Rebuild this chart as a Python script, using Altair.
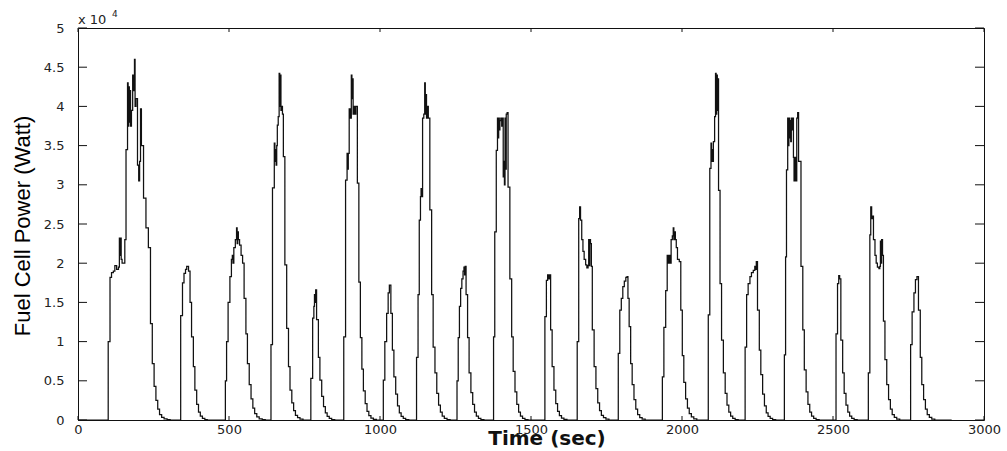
import altair as alt
import pandas as pd

# ---- axis ticks ----
X_TICKS = [0, 500, 1000, 1500, 2000, 2500, 3000]
Y_TICKS = [0, 0.5, 1, 1.5, 2, 2.5, 3, 3.5, 4, 4.5, 5]

# ---- fuel cell power, stepped signal: (time s, power in 1e4 W) ----
PULSE_01 = [(100, 1.0), (106, 1.82), (111, 1.88), (117, 1.9), (122, 1.97), (128, 1.92), (134, 1.95),
            (137, 2.32), (139, 2.1), (141, 2.32), (143, 2.05), (146, 2.0), (151, 2.0), (155, 2.3),
            (159, 3.45), (164, 4.3), (166, 3.75), (168, 4.25), (170, 3.8), (172, 4.2), (174, 3.75),
            (177, 3.95), (181, 4.4), (185, 4.2), (187, 4.6), (189, 4.0), (192, 4.1), (197, 3.25),
            (201, 3.05), (204, 3.3), (207, 3.97), (210, 3.5), (217, 2.83), (225, 2.45), (233, 2.2),
            (240, 1.23), (246, 0.72), (252, 0.43), (258, 0.25), (264, 0.14), (270, 0.07), (277, 0.035),
            (285, 0.015), (295, 0.005), (305, 0)]
PULSE_02 = [(340, 1.33), (346, 1.75), (351, 1.87), (356, 1.92), (360, 1.96), (366, 1.9), (371, 1.5),
            (376, 1.06), (382, 0.68), (387, 0.38), (393, 0.2), (399, 0.1), (405, 0.05), (412, 0.02),
            (420, 0.005), (428, 0)]
PULSE_03 = [(488, 0.5), (492, 1.0), (497, 1.5), (503, 1.83), (508, 2.05), (511, 2.1), (513, 2.0),
            (516, 2.2), (521, 2.3), (525, 2.45), (527, 2.25), (529, 2.4), (531, 2.3), (535, 2.23),
            (540, 2.1), (545, 2.0), (550, 1.55), (556, 1.1), (561, 0.72), (567, 0.45), (573, 0.27),
            (579, 0.15), (585, 0.08), (592, 0.04), (600, 0.015), (610, 0.005), (620, 0)]
PULSE_04 = [(639, 0.96), (644, 2.96), (650, 3.53), (652, 3.3), (654, 3.45), (656, 3.25), (658, 3.5),
            (660, 3.76), (663, 3.87), (666, 4.42), (668, 4.0), (670, 4.4), (672, 3.95), (675, 4.0),
            (677, 3.9), (680, 3.36), (685, 1.98), (691, 1.17), (697, 0.68), (702, 0.38), (708, 0.22),
            (714, 0.12), (720, 0.06), (727, 0.03), (735, 0.01), (745, 0)]
PULSE_05 = [(771, 0.53), (777, 1.3), (781, 1.45), (783, 1.6), (785, 1.5), (787, 1.66), (790, 1.28),
            (796, 0.8), (801, 0.51), (807, 0.3), (813, 0.17), (819, 0.09), (825, 0.045), (832, 0.02),
            (840, 0.005), (850, 0)]
PULSE_06 = [(880, 1.06), (886, 3.06), (891, 3.4), (893, 3.2), (895, 3.4), (898, 3.97), (902, 3.85),
            (905, 4.4), (907, 4.1), (909, 4.35), (911, 3.9), (914, 4.0), (917, 3.9), (920, 4.0),
            (925, 3.02), (930, 1.76), (935, 1.05), (940, 0.65), (945, 0.37), (951, 0.21), (957, 0.11),
            (963, 0.055), (970, 0.025), (978, 0.008), (988, 0)]
PULSE_07 = [(1011, 0.51), (1016, 1.0), (1022, 1.36), (1027, 1.62), (1031, 1.72), (1036, 1.36),
            (1041, 0.89), (1046, 0.55), (1052, 0.33), (1058, 0.18), (1064, 0.09), (1070, 0.045),
            (1077, 0.02), (1085, 0.005), (1095, 0)]
PULSE_08 = [(1121, 0.8), (1126, 1.6), (1130, 2.55), (1134, 2.85), (1136, 2.95), (1138, 2.85),
            (1141, 3.85), (1145, 3.9), (1148, 4.3), (1150, 3.9), (1152, 4.15), (1154, 3.85),
            (1157, 4.0), (1160, 3.85), (1165, 2.68), (1171, 1.6), (1176, 0.93), (1182, 0.6),
            (1188, 0.34), (1194, 0.19), (1200, 0.1), (1206, 0.05), (1213, 0.02), (1222, 0.006), (1232, 0)]
PULSE_09 = [(1255, 0.5), (1259, 1.05), (1263, 1.45), (1267, 1.68), (1271, 1.8), (1275, 1.9),
            (1278, 1.95), (1280, 1.85), (1282, 1.96), (1285, 1.6), (1290, 1.05), (1295, 0.6),
            (1301, 0.35), (1307, 0.2), (1313, 0.1), (1319, 0.05), (1326, 0.02), (1334, 0.006), (1344, 0)]
PULSE_10 = [(1376, 1.06), (1380, 2.4), (1385, 3.44), (1389, 3.85), (1391, 3.6), (1393, 3.85),
            (1395, 3.7), (1397, 3.82), (1400, 3.85), (1403, 3.75), (1405, 3.85), (1408, 3.1),
            (1410, 3.3), (1412, 3.0), (1414, 3.85), (1416, 3.2), (1418, 3.9), (1421, 3.92),
            (1424, 2.97), (1430, 1.8), (1436, 1.06), (1441, 0.62), (1447, 0.36), (1453, 0.2),
            (1459, 0.1), (1465, 0.05), (1472, 0.02), (1480, 0.006), (1490, 0)]
PULSE_11 = [(1546, 1.32), (1551, 1.78), (1555, 1.85), (1558, 1.8), (1561, 1.85), (1565, 1.15),
            (1570, 0.68), (1576, 0.38), (1582, 0.21), (1588, 0.11), (1594, 0.055), (1601, 0.025),
            (1609, 0.008), (1619, 0)]
PULSE_12 = [(1653, 1.0), (1658, 2.57), (1661, 2.72), (1664, 2.55), (1668, 2.3), (1672, 2.15),
            (1676, 2.05), (1681, 1.98), (1685, 1.94), (1689, 1.97), (1691, 2.3), (1693, 1.97),
            (1695, 2.3), (1697, 2.25), (1700, 1.96), (1703, 1.15), (1709, 0.68), (1715, 0.4),
            (1721, 0.22), (1727, 0.12), (1733, 0.06), (1740, 0.03), (1748, 0.01), (1758, 0)]
PULSE_13 = [(1789, 0.85), (1794, 1.4), (1799, 1.55), (1804, 1.7), (1809, 1.77), (1814, 1.82),
            (1818, 1.83), (1821, 1.55), (1825, 1.19), (1830, 0.72), (1835, 0.45), (1841, 0.26),
            (1847, 0.14), (1853, 0.07), (1860, 0.03), (1868, 0.01), (1878, 0)]
PULSE_14 = [(1935, 0.55), (1940, 1.18), (1946, 1.65), (1951, 2.1), (1955, 2.0), (1957, 2.1),
            (1960, 2.0), (1964, 2.3), (1968, 2.35), (1971, 2.45), (1973, 2.3), (1975, 2.4),
            (1978, 2.3), (1981, 2.2), (1985, 2.05), (1991, 2.02), (1996, 1.4), (2001, 0.82),
            (2006, 0.48), (2012, 0.27), (2018, 0.15), (2024, 0.08), (2031, 0.04), (2039, 0.015), (2049, 0)]
PULSE_15 = [(2087, 1.34), (2092, 3.21), (2096, 3.53), (2098, 3.3), (2100, 3.45), (2102, 3.3),
            (2104, 3.55), (2108, 3.87), (2111, 4.42), (2113, 3.9), (2115, 4.4), (2117, 3.95),
            (2119, 4.35), (2121, 2.93), (2126, 1.74), (2131, 1.02), (2137, 0.6), (2143, 0.34),
            (2149, 0.19), (2155, 0.1), (2161, 0.05), (2168, 0.02), (2176, 0.006), (2186, 0)]
PULSE_16 = [(2209, 0.93), (2214, 1.6), (2219, 1.74), (2225, 1.83), (2230, 1.88), (2236, 1.91),
            (2241, 1.96), (2244, 1.92), (2246, 2.02), (2250, 1.4), (2256, 0.89), (2261, 0.58),
            (2267, 0.33), (2273, 0.18), (2279, 0.09), (2285, 0.045), (2292, 0.02), (2300, 0.005), (2310, 0)]
PULSE_17 = [(2339, 0.83), (2343, 2.08), (2346, 3.19), (2350, 3.85), (2352, 3.5), (2354, 3.85),
            (2356, 3.6), (2358, 3.82), (2360, 3.55), (2362, 3.85), (2364, 3.7), (2366, 3.85),
            (2369, 3.35), (2371, 3.05), (2373, 3.2), (2375, 3.35), (2377, 3.05), (2380, 3.85),
            (2383, 3.92), (2386, 3.3), (2389, 3.3), (2394, 1.96), (2400, 1.15), (2405, 0.64),
            (2411, 0.36), (2417, 0.2), (2423, 0.1), (2429, 0.05), (2436, 0.02), (2444, 0.006), (2454, 0)]
PULSE_18 = [(2510, 1.1), (2515, 1.74), (2519, 1.84), (2522, 1.8), (2526, 1.02), (2532, 0.6),
            (2537, 0.34), (2543, 0.19), (2549, 0.1), (2555, 0.05), (2562, 0.02), (2570, 0.006), (2580, 0)]
PULSE_19 = [(2617, 0.6), (2622, 2.36), (2625, 2.72), (2628, 2.57), (2631, 2.6), (2634, 2.3),
            (2639, 2.1), (2643, 2.0), (2647, 1.95), (2652, 1.93), (2655, 1.96), (2657, 2.28),
            (2659, 2.0), (2661, 2.3), (2664, 2.1), (2667, 1.26), (2672, 0.77), (2678, 0.45),
            (2684, 0.26), (2690, 0.14), (2696, 0.07), (2703, 0.035), (2711, 0.012), (2721, 0)]
PULSE_20 = [(2757, 0.96), (2762, 1.38), (2768, 1.62), (2773, 1.79), (2778, 1.83), (2783, 1.4),
            (2789, 0.8), (2794, 0.45), (2800, 0.26), (2806, 0.14), (2812, 0.07), (2819, 0.035),
            (2827, 0.012), (2837, 0)]
START_TIME = 0
END_TIME = 2893

PULSES = [PULSE_01, PULSE_02, PULSE_03, PULSE_04, PULSE_05, PULSE_06, PULSE_07, PULSE_08,
          PULSE_09, PULSE_10, PULSE_11, PULSE_12, PULSE_13, PULSE_14, PULSE_15, PULSE_16,
          PULSE_17, PULSE_18, PULSE_19, PULSE_20]

rows = [{"t": START_TIME, "p": 0.0}]
for pulse in PULSES:
    for t, p in pulse:
        rows.append({"t": t, "p": p})
rows.append({"t": END_TIME, "p": 0.0})
df = pd.DataFrame(rows)

W, H = 906, 392
xs = alt.Scale(domain=[0, 3000], nice=False, zero=False)
ys = alt.Scale(domain=[0, 5], nice=False, zero=False)
INK = "#111111"

x_axis = alt.Axis(values=X_TICKS, ticks=False, domain=False, grid=False,
                  labelFont="DejaVu Sans", labelFontSize=13, labelColor="#222",
                  labelPadding=3, title=None, format="d", labelFlush=False)
y_axis = alt.Axis(values=Y_TICKS, ticks=False, domain=False, grid=False,
                  labelFont="DejaVu Sans", labelFontSize=13, labelColor="#222",
                  labelPadding=14, title=None, format="~g", labelFlush=False)

line = alt.Chart(df).mark_line(interpolate="step-after", color=INK, strokeWidth=1.25).encode(
    x=alt.X("t:Q", scale=xs, axis=x_axis),
    y=alt.Y("p:Q", scale=ys, axis=y_axis),
)

xt = pd.DataFrame({"t": X_TICKS})
yt = pd.DataFrame({"p": Y_TICKS})
tick_x_bottom = alt.Chart(xt).mark_rule(color=INK, strokeWidth=1).encode(
    x=alt.X("t:Q", scale=xs, axis=x_axis), y=alt.value(H), y2=alt.value(H - 4))
tick_x_top = alt.Chart(xt).mark_rule(color=INK, strokeWidth=1).encode(
    x=alt.X("t:Q", scale=xs, axis=x_axis), y=alt.value(0), y2=alt.value(4))
tick_y_left = alt.Chart(yt).mark_rule(color=INK, strokeWidth=1).encode(
    y=alt.Y("p:Q", scale=ys, axis=y_axis), x=alt.value(0), x2=alt.value(9))
tick_y_right = alt.Chart(yt).mark_rule(color=INK, strokeWidth=1).encode(
    y=alt.Y("p:Q", scale=ys, axis=y_axis), x=alt.value(W), x2=alt.value(W - 9))

one = pd.DataFrame({"k": [0]})
x_title = alt.Chart(one).mark_text(font="DejaVu Sans", fontSize=20, fontWeight="bold", color=INK,
                                   align="center", baseline="middle").encode(
    x=alt.value(469), y=alt.value(411), text=alt.value("Time (sec)"))
y_title = alt.Chart(one).mark_text(font="Liberation Sans", fontSize=22, color="#000", angle=270,
                                   align="center", baseline="middle").encode(
    x=alt.value(-55), y=alt.value(198), text=alt.value("Fuel Cell Power (Watt)"))
exp_base = alt.Chart(one).mark_text(font="DejaVu Sans", fontSize=13, color="#222",
                                    align="left", baseline="alphabetic").encode(
    x=alt.value(0), y=alt.value(-4), text=alt.value("x 10"))
exp_sup = alt.Chart(one).mark_text(font="DejaVu Sans", fontSize=9, color="#222",
                                   align="left", baseline="alphabetic").encode(
    x=alt.value(34), y=alt.value(-11), text=alt.value("4"))

chart = alt.layer(
    line, tick_x_bottom, tick_x_top, tick_y_left, tick_y_right,
    x_title, y_title, exp_base, exp_sup
).properties(
    width=W, height=H,
    padding={"left": 78, "top": 28, "right": 23, "bottom": 31},
    autosize=alt.AutoSizeParams(type="none"),
    background="white",
).configure_view(stroke=INK, strokeWidth=1)

chart.save("out.html", embed_options={"renderer": "svg", "actions": False})
